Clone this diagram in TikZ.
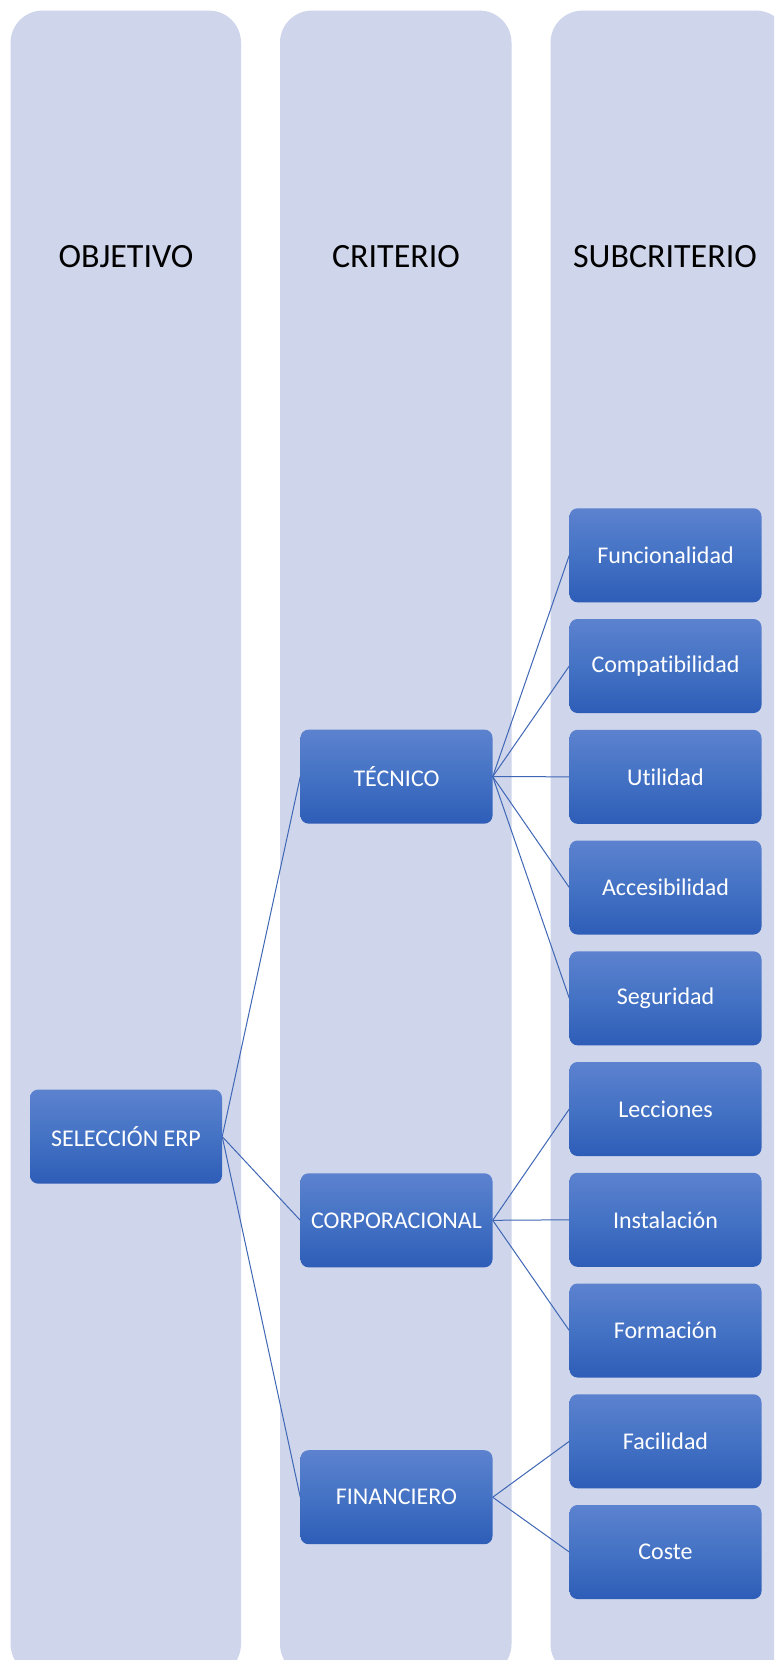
\documentclass[tikz,border=0pt]{standalone}
\usepackage{fontspec}
\setmainfont{Carlito}[Ligatures=NoCommon]
\definecolor{colfill}{HTML}{CFD5EA}
\definecolor{boxtop}{HTML}{5C82CF}
\definecolor{boxmid}{HTML}{4472C4}
\definecolor{boxbot}{HTML}{2E5DB8}
\definecolor{linkcol}{HTML}{3F67B5}
\tikzset{
  lane/.style={fill=colfill, draw=none, rounded corners=32pt},
  lanehead/.style={font=\fontsize{34}{40}\selectfont, text=black},
  item/.style={rounded corners=8pt, minimum width=192pt, minimum height=94pt,
    inner sep=0pt, top color=boxtop, bottom color=boxbot, middle color=boxmid,
    text=white, font=\fontsize{24}{28}\selectfont},
  link/.style={draw=linkcol, line width=1pt}
}
\begin{document}
\begin{tikzpicture}[x=1pt,y=-1pt]
\useasboundingbox (0,0) rectangle (774,1660);
\clip (0,0) rectangle (774,1660);
\fill[white] (0,0) rectangle (774,1660);

% three lanes
\path[lane] (10.6,10.6) rectangle (241,1676);
\path[lane] (280,10.6) rectangle (511.5,1676);
\path[lane] (550.5,10.6) rectangle (788,1676);

\node[lanehead] (hobj) at (126,257) {OBJETIVO};
\node[lanehead] (hcri) at (396,257) {CRITERIO};
\node[lanehead] (hsub) at (665,257) {SUBCRITERIO};

% goal
\node[item] (erp) at (126,1136.6) {SELECCIÓN ERP};

% criteria
\node[item] (tec) at (396.5,776.6) {TÉCNICO};
\node[item] (cor) at (396.5,1220.3) {CORPORACIONAL};
\node[item] (fin) at (396.5,1497.2) {FINANCIERO};

% sub-criteria
\node[item] (s1)  at (665.5,555.3)  {Funcionalidad};
\node[item] (s2)  at (665.5,666.0)  {Compatibilidad};
\node[item] (s3)  at (665.5,776.8)  {Utilidad};
\node[item] (s4)  at (665.5,887.5)  {Accesibilidad};
\node[item] (s5)  at (665.5,998.3)  {Seguridad};
\node[item] (s6)  at (665.5,1109.0) {Lecciones};
\node[item] (s7)  at (665.5,1219.8) {Instalación};
\node[item] (s8)  at (665.5,1330.5) {Formación};
\node[item] (s9)  at (665.5,1441.3) {Facilidad};
\node[item] (s10) at (665.5,1552.0) {Coste};

% connectors
\foreach \c in {tec,cor,fin}
  \draw[link] (erp.east) -- (\c.west);
\foreach \s in {s1,s2,s3,s4,s5}
  \draw[link] (tec.east) -- (\s.west);
\foreach \s in {s6,s7,s8}
  \draw[link] (cor.east) -- (\s.west);
\foreach \s in {s9,s10}
  \draw[link] (fin.east) -- (\s.west);
\end{tikzpicture}
\end{document}
